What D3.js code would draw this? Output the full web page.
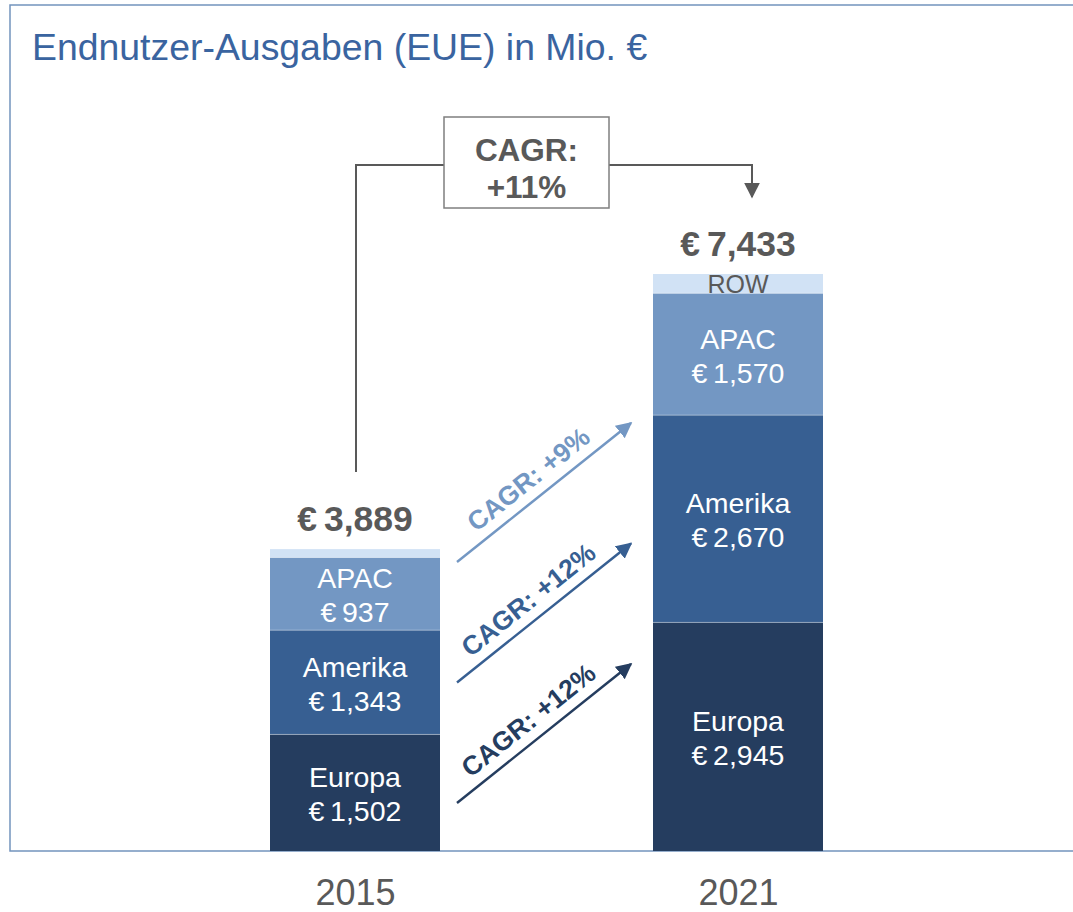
<!DOCTYPE html>
<html>
<head>
<meta charset="utf-8">
<script src="https://cdn.jsdelivr.net/npm/d3@7"></script>
<style>
  body { margin: 0; background: #fff; }
  svg { font-family: "Liberation Sans", Arial, sans-serif; }
</style>
</head>
<body>
<svg id="chart" width="1073" height="912"></svg>
<script>
// chart values
var years = ["2015", "2021"];
var regions = ["Europa", "Amerika", "APAC", "ROW"];
var europa = [1502, 2945];
var amerika = [1343, 2670];
var apac = [937, 1570];
var row = [107, 248];
var totals = [3889, 7433];
var cagrRegion = ["+12%", "+12%", "+9%"];   // Europa, Amerika, APAC
var cagrTotal = "+11%";

var colors = {Europa: "#253d5f", Amerika: "#375f92", APAC: "#7397c3", ROW: "#d1e2f5"};
var grey = "#595959";

// build table for the stack
var table = years.map(function(y, i) {
  return {year: y, Europa: europa[i], Amerika: amerika[i], APAC: apac[i], ROW: row[i]};
});

var svg = d3.select("#chart");
var W = 1073, H = 912;
var base = 851, barW = 170;

var x = d3.scalePoint().domain(years).range([355, 738]);
var y = d3.scaleLinear().domain([0, 8000]).range([base, 230]);

// frame
var frame = svg.append("g").attr("fill", "none").attr("stroke", "#7394bd").attr("stroke-width", 1.5);
frame.append("path").attr("d", "M" + W + ",5H10V" + base + "H" + W);

// title
svg.append("text")
  .attr("x", 32).attr("y", 60)
  .attr("fill", "#3a64a0")
  .attr("font-size", 37.4)
  .text("Endnutzer-Ausgaben (EUE) in Mio. €");

// bars
var series = d3.stack().keys(regions)(table);
var bars = svg.append("g");
series.forEach(function(s) {
  bars.selectAll(null).data(s).enter().append("rect")
    .attr("x", function(d) { return x(d.data.year) - barW / 2; })
    .attr("y", function(d) { return y(d[1]); })
    .attr("width", barW)
    .attr("height", function(d) { return y(d[0]) - y(d[1]); })
    .attr("fill", colors[s.key]);
});
// faint separators between segments
series.slice(0, 3).forEach(function(s) {
  bars.selectAll(null).data(s).enter().append("line")
    .attr("x1", function(d) { return x(d.data.year) - barW / 2; })
    .attr("x2", function(d) { return x(d.data.year) + barW / 2; })
    .attr("y1", function(d) { return y(d[1]); })
    .attr("y2", function(d) { return y(d[1]); })
    .attr("stroke", "#ffffff").attr("stroke-opacity", 0.35).attr("stroke-width", 1);
});

// segment labels
var fmt = d3.format(",");
var labels = svg.append("g").attr("text-anchor", "middle").attr("font-size", 28.5).attr("fill", "#fff");
series.slice(0, 3).forEach(function(s) {
  s.forEach(function(d) {
    var cy = (y(d[0]) + y(d[1])) / 2;
    var t = labels.append("text").attr("x", x(d.data.year)).attr("y", cy);
    t.append("tspan").attr("x", x(d.data.year)).attr("dy", "-0.2em").text(s.key);
    t.append("tspan").attr("x", x(d.data.year)).attr("dy", "1.2em").text("€\u2009" + fmt(d.data[s.key]));
  });
});
// ROW label only on 2021
var rowLast = series[3][1];
svg.append("text")
  .attr("x", x(years[1])).attr("y", (y(rowLast[0]) + y(rowLast[1])) / 2 + 9)
  .attr("text-anchor", "middle").attr("font-size", 25).attr("fill", grey)
  .text("ROW");

// totals
svg.append("g").selectAll("text").data(table).enter().append("text")
  .attr("x", function(d) { return x(d.year); })
  .attr("y", function(d, i) { return y(totals[i]) - 18; })
  .attr("text-anchor", "middle").attr("font-size", 35.5).attr("font-weight", "bold").attr("fill", grey)
  .text(function(d, i) { return "€\u2009" + fmt(totals[i]); });

// year axis
var axis = svg.append("g").attr("transform", "translate(0," + base + ")")
  .call(d3.axisBottom(x).tickSize(0).tickPadding(28));
axis.select(".domain").remove();
axis.selectAll("text").attr("font-size", 36).attr("fill", grey)
  .attr("font-family", "Liberation Sans, Arial, sans-serif");

// arrow markers
var defs = svg.append("defs");
function marker(id, col, size) {
  defs.append("marker").attr("id", id)
    .attr("viewBox", "0 0 10 10").attr("refX", 9).attr("refY", 5)
    .attr("markerWidth", size).attr("markerHeight", size)
    .attr("markerUnits", "userSpaceOnUse")
    .attr("orient", "auto")
    .append("path").attr("d", "M0,0L10,5L0,10Z").attr("fill", col);
}

// diagonal CAGR arrows per region
var ax0 = x(years[0]) + barW / 2 + 17, ax1 = x(years[1]) - barW / 2 - 22;
var arrowG = svg.append("g");
["Europa", "Amerika", "APAC"].forEach(function(r, i) {
  var col = colors[r];
  marker("m" + i, col, 16);
  var y0 = 803 - i * 120.5, y1 = y0 - 139;
  arrowG.append("line")
    .attr("x1", ax0).attr("y1", y0).attr("x2", ax1).attr("y2", y1)
    .attr("stroke", col).attr("stroke-width", 2.5)
    .attr("marker-end", "url(#m" + i + ")");
  var ang = Math.atan2(y1 - y0, ax1 - ax0);
  var mx = (ax0 + ax1) / 2 - 4 * Math.cos(ang), my = (y0 + y1) / 2 - 4 * Math.sin(ang);
  var off = 11;
  var tx = mx + off * Math.sin(ang), ty = my - off * Math.cos(ang);
  arrowG.append("text")
    .attr("transform", "translate(" + tx + "," + ty + ") rotate(" + (ang * 180 / Math.PI) + ")")
    .attr("text-anchor", "middle").attr("font-size", 26.5).attr("font-weight", "bold")
    .attr("fill", col)
    .text("CAGR: " + cagrRegion[i]);
});

// overall CAGR connector
marker("mt", grey, 16);
var lx = 356, rx = 752, ly = 165;
var boxX = 444, boxW = 165, boxY = 117, boxH = 91;
var conn = svg.append("g").attr("fill", "none").attr("stroke", grey).attr("stroke-width", 2);
conn.append("path").attr("d", "M" + lx + "," + (y(totals[0]) - 77) + "V" + ly + "H" + boxX);
conn.append("path").attr("d", "M" + (boxX + boxW) + "," + ly + "H" + rx + "V" + 197)
  .attr("marker-end", "url(#mt)");
svg.append("rect").attr("x", boxX).attr("y", boxY).attr("width", boxW).attr("height", boxH)
  .attr("fill", "#fff").attr("stroke", "#7f7f7f").attr("stroke-width", 1.5);
var bt = svg.append("text").attr("text-anchor", "middle").attr("font-size", 31.5)
  .attr("font-weight", "bold").attr("fill", grey);
bt.append("tspan").attr("x", boxX + boxW / 2).attr("y", 161).text("CAGR:");
bt.append("tspan").attr("x", boxX + boxW / 2).attr("y", 198).text(cagrTotal);
</script>
</body>
</html>
